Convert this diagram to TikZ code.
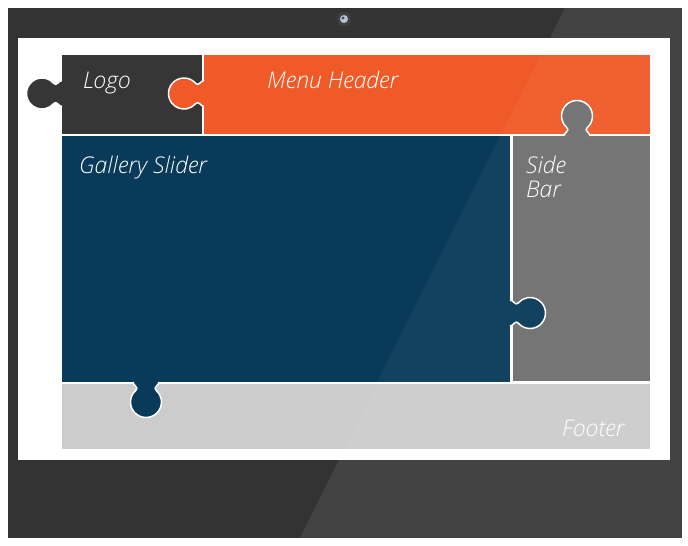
\documentclass[tikz,border=0pt]{standalone}
\usepackage{fontspec}
\setmainfont{Open Sans}[ItalicFont={Open Sans Light Italic}]
\usetikzlibrary{positioning}
\definecolor{frame}{HTML}{333333}
\definecolor{logo}{HTML}{363636}
\definecolor{orange}{HTML}{F05A28}
\definecolor{navy}{HTML}{0A3A5A}
\definecolor{side}{HTML}{707070}
\definecolor{foot}{HTML}{CCCCCC}
\definecolor{lens}{HTML}{B4C4D4}

\begin{document}
\begin{tikzpicture}[x=1pt,y=-1pt,
  piece/.style={anchor=north west,inner sep=0pt,outer sep=0pt},
  lbl/.style={anchor=base west,inner sep=0pt,text=white,font=\itshape\fontsize{23}{27}\selectfont},
  knob/.pic={
    \fill[pic actions] (-1,13) -- (0,13) .. controls (3,13) and (5.56,6.9) .. (8.13,9.96)
      arc[start angle=140,end angle=-140,radius=15.5]
      .. controls (5.56,-6.9) and (3,-13) .. (0,-13) -- (-1,-13) -- cycle;
    \draw[white,line width=1.5pt] (0,13) .. controls (3,13) and (5.56,6.9) .. (8.13,9.96)
      arc[start angle=140,end angle=-140,radius=15.5]
      .. controls (5.56,-6.9) and (3,-13) .. (0,-13);
  }]
\useasboundingbox (0,0) rectangle (688,546);

% tablet body and screen
\fill[frame] (8,8) rectangle (682,538);
\fill[white,opacity=.08] (565,8) -- (682,8) -- (682,538) -- (300,538) -- cycle;
\fill[white] (18,38) rectangle (670,460);
\coordinate (cam) at (344,19);
\fill[black!75] (cam) circle (7);
\fill[lens] (cam) circle (4);
\fill[lens!40!black] ([shift={(-1,-1)}]cam) circle (1.6);

% puzzle pieces
\node[piece,fill=logo,minimum width=140pt,minimum height=79pt] (logo) at (62,55) {};
\node[piece,fill=orange,minimum width=446pt,minimum height=79pt] (header) at (204,55) {};
\node[piece,fill=navy,minimum width=448pt,minimum height=246pt] (slider) at (62,136) {};
\node[piece,fill=side,minimum width=137pt,minimum height=245pt] (sidebar) at (513,136) {};
\node[piece,fill=foot,minimum width=588pt,minimum height=65pt] (footer) at (62,384) {};

% knobs
\pic[fill=logo,rotate=180] at ([yshift=1pt]logo.west) {knob};
\pic[fill=orange,rotate=180] at ([yshift=1pt]header.west) {knob};
\pic[fill=side,rotate=90] at ([xshift=64pt]sidebar.north west) {knob};
\pic[fill=navy] at ([yshift=-177pt]slider.north east) {knob};
\pic[fill=navy,rotate=-90] at ([xshift=84pt]slider.south west) {knob};

% labels
\node[lbl] (logotxt) at (83,88) {Logo};
\node[lbl] (headtxt) at (267,88) {Menu Header};
\node[lbl] (slidetxt) at (79,173) {Gallery Slider};
\node[lbl] (sidetxt) at (526,173) {Side};
\node[lbl] (bartxt) at (526,197) {Bar};
\node[lbl] (foottxt) at (562,436) {Footer};

% glare on the screen
\fill[white,opacity=.04] (541,55) -- (650,55) -- (650,449) -- (344,449) -- cycle;

\end{tikzpicture}
\end{document}
